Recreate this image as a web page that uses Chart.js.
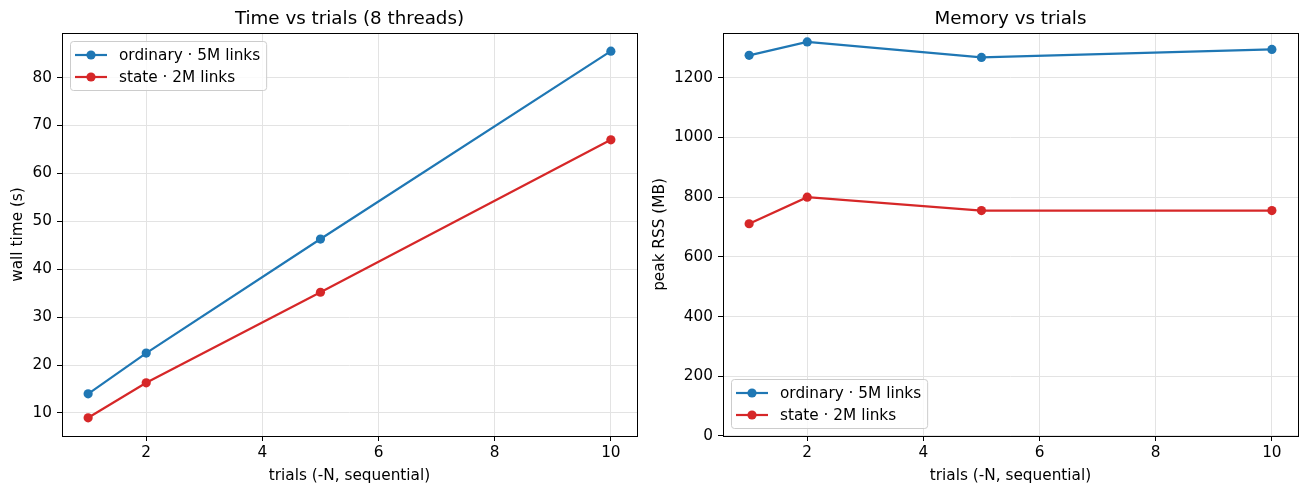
<!DOCTYPE html>
<html>
<head>
<meta charset="utf-8">
<script src="https://cdn.jsdelivr.net/npm/chart.js@4.4.1/dist/chart.umd.min.js"></script>
<style>
body { margin: 0; background: #fff; }
canvas { position: absolute; top: 0; }
#time_graph { left: 0; }
#memory_graph { left: 648px; }
</style>
</head>
<body>
<canvas id="time_graph" width="648" height="494"></canvas>
<canvas id="memory_graph" width="660" height="494"></canvas>
<script>
const trials = [1, 2, 5, 10];
const timeOrdinary = [14.0, 22.5, 46.3, 85.5];
const timeState = [9.0, 16.3, 35.2, 67.0];
const memOrdinary = [1275, 1320, 1268, 1295];
const memState = [711, 800, 755, 755];
const xTicks = [2, 4, 6, 8, 10];
const timeTicks = [10, 20, 30, 40, 50, 60, 70, 80];
const memTicks = [0, 200, 400, 600, 800, 1000, 1200];
const labelOrdinary = 'ordinary · 5M links';
const labelState = 'state · 2M links';

const blue = '#1f77b4';
const red = '#d62728';
const family = '"DejaVu Sans", sans-serif';
const fontSize = 15.3;
const tickFont = { family: family, size: fontSize };

// black box round the plot area, like matplotlib spines
const frame = {
    id: 'frame',
    afterDraw(chart) {
        const ctx = chart.ctx;
        const a = chart.chartArea;
        ctx.save();
        ctx.strokeStyle = '#000';
        ctx.lineWidth = 1;
        ctx.strokeRect(Math.round(a.left) + 0.5, Math.round(a.top) + 0.5,
            Math.round(a.right - a.left), Math.round(a.bottom - a.top));
        ctx.restore();
    }
};

// legend drawn inside the plot area
const boxLegend = {
    id: 'boxLegend',
    afterDatasetsDraw(chart, args, opts) {
        const ctx = chart.ctx;
        const a = chart.chartArea;
        const items = chart.data.datasets;
        ctx.save();
        ctx.font = fontSize + 'px ' + family;
        const tw = Math.max.apply(null, items.map(function (d) {
            return ctx.measureText(d.label).width;
        }));
        const w = 5 + 32 + 12 + tw + 6;
        const h = 49;
        const x = Math.round(a.left) + 8;
        const y = opts.corner === 'top' ? Math.round(a.top) + 8 : Math.round(a.bottom) - 8 - h;
        ctx.beginPath();
        ctx.roundRect(x + 0.5, y + 0.5, w, h, 3);
        ctx.fillStyle = 'rgba(255,255,255,0.8)';
        ctx.fill();
        ctx.strokeStyle = '#cccccc';
        ctx.lineWidth = 1;
        ctx.stroke();
        items.forEach(function (d, i) {
            const cy = y + 14 + i * 22;
            ctx.strokeStyle = d.borderColor;
            ctx.lineWidth = 2.2;
            ctx.beginPath();
            ctx.moveTo(x + 5, cy);
            ctx.lineTo(x + 37, cy);
            ctx.stroke();
            ctx.fillStyle = d.borderColor;
            ctx.beginPath();
            ctx.arc(x + 21, cy, 4.6, 0, Math.PI * 2);
            ctx.fill();
            ctx.fillStyle = '#000';
            ctx.textBaseline = 'middle';
            ctx.fillText(d.label, x + 49, cy + 1);
        });
        ctx.restore();
    }
};

function series(label, values, color) {
    return {
        label: label,
        data: trials.map(function (t, i) {
            return { x: t, y: values[i] };
        }),
        borderColor: color,
        backgroundColor: color,
        borderWidth: 2.2,
        pointRadius: 4.6,
        pointBorderWidth: 0,
        pointBackgroundColor: color,
        tension: 0
    };
}

function makeChart(id, title, yTitle, ordinary, state, yTicks, yMin, yMax, corner, yWidth, yTitlePad, rightPad) {
    return new Chart(document.getElementById(id), {
        type: 'line',
        data: {
            datasets: [
                series(labelOrdinary, ordinary, blue),
                series(labelState, state, red)
            ]
        },
        plugins: [frame, boxLegend],
        options: {
            responsive: false,
            animation: false,
            devicePixelRatio: 1,
            layout: {
                padding: { left: 0, right: rightPad, top: 0, bottom: 0 }
            },
            plugins: {
                legend: { display: false },
                tooltip: { enabled: false },
                title: {
                    display: true,
                    text: title,
                    color: '#000',
                    fullSize: false,
                    font: { family: family, size: 18.3, weight: 'normal' },
                    padding: { top: 8, bottom: 3 }
                },
                boxLegend: { corner: corner }
            },
            scales: {
                x: {
                    type: 'linear',
                    min: 0.55,
                    max: 10.45,
                    afterBuildTicks: function (s) {
                        s.ticks = xTicks.map(function (v) { return { value: v }; });
                    },
                    afterFit: function (s) { s.height = 58; },
                    border: { display: false },
                    grid: { color: '#e3e3e3', lineWidth: 1, tickColor: '#000', tickLength: 5 },
                    ticks: {
                        color: '#000',
                        font: tickFont,
                        padding: 3,
                        maxRotation: 0,
                        callback: function (v) { return String(v); }
                    },
                    title: {
                        display: true,
                        text: 'trials (-N, sequential)',
                        color: '#000',
                        font: tickFont,
                        padding: { top: 2, bottom: 9 }
                    }
                },
                y: {
                    type: 'linear',
                    min: yMin,
                    max: yMax,
                    afterBuildTicks: function (s) {
                        s.ticks = yTicks.map(function (v) { return { value: v }; });
                    },
                    afterFit: function (s) { s.width = yWidth; },
                    border: { display: false },
                    grid: { color: '#e3e3e3', lineWidth: 1, tickColor: '#000', tickLength: 5 },
                    ticks: {
                        color: '#000',
                        font: tickFont,
                        padding: 5,
                        callback: function (v) { return String(v); }
                    },
                    title: {
                        display: true,
                        text: yTitle,
                        color: '#000',
                        font: tickFont,
                        padding: { top: yTitlePad, bottom: 2 }
                    }
                }
            }
        }
    });
}

makeChart('time_graph', 'Time vs trials (8 threads)', 'wall time (s)',
    timeOrdinary, timeState, timeTicks, 5.2, 89.3, 'top', 62, 9, 11);
makeChart('memory_graph', 'Memory vs trials', 'peak RSS (MB)',
    memOrdinary, memState, memTicks, 0, 1350, 'bottom', 75, 3, 10);
</script>
</body>
</html>
